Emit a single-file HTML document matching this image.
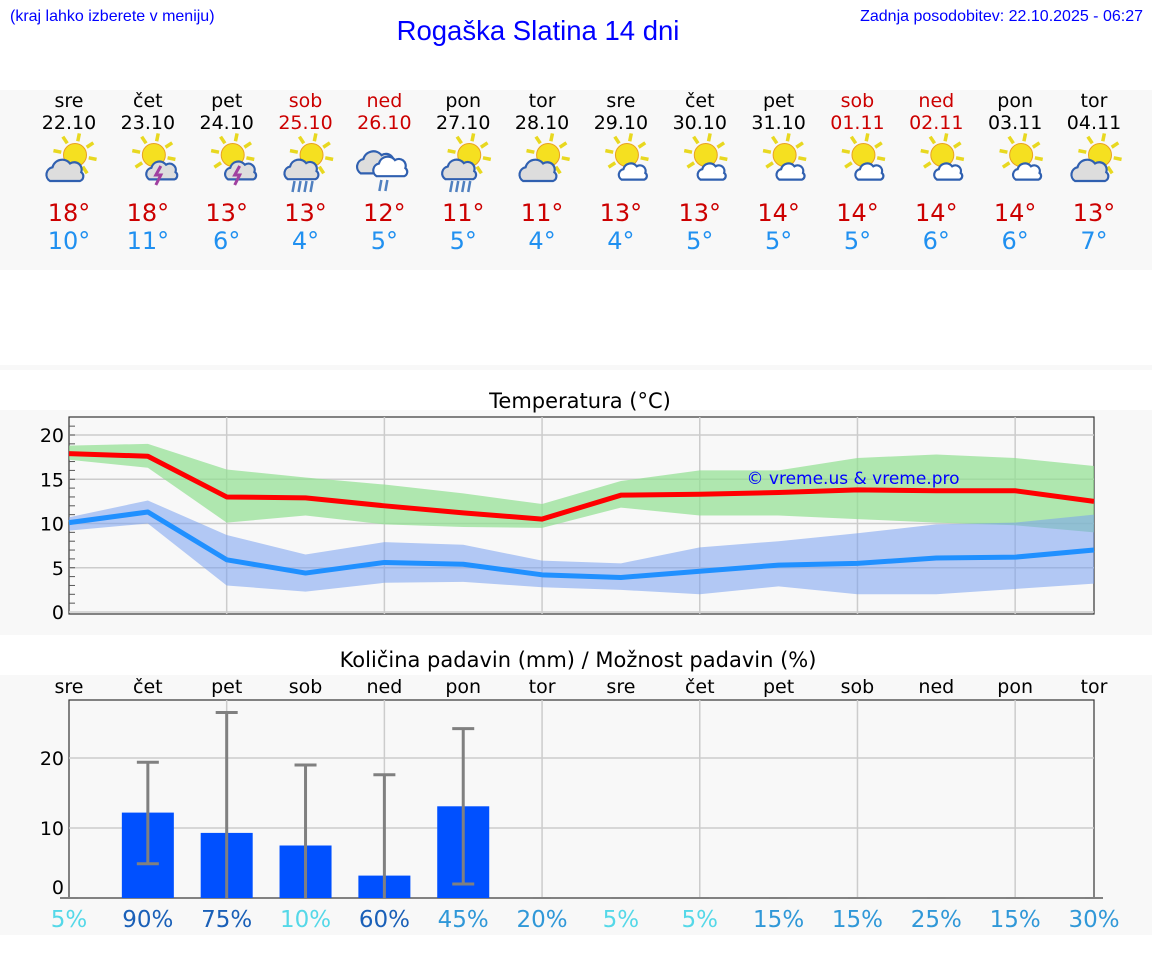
<!DOCTYPE html>
<html><head><meta charset="utf-8"><style>
body{margin:0;background:#fff;width:1152px;height:975px;overflow:hidden;font-family:"Liberation Sans","DejaVu Sans",sans-serif}
svg text{font-family:"DejaVu Sans","Liberation Sans",sans-serif}
</style></head><body>
<svg id="s" width="1152" height="975" xmlns="http://www.w3.org/2000/svg">
<rect x="0" y="90" width="1152" height="180" fill="#f8f8f8"/>
<rect x="0" y="365" width="1152" height="5" fill="#f8f8f8"/>
<rect x="0" y="410" width="1152" height="225" fill="#f8f8f8"/>
<rect x="0" y="675" width="1152" height="260" fill="#f8f8f8"/>
<text x="10" y="21" font-size="16" fill="#0000ff" style="font-family:'Liberation Sans',sans-serif">(kraj lahko izberete v meniju)</text>
<text x="538" y="40" font-size="27.5" fill="#0000ff" text-anchor="middle" style="font-family:'Liberation Sans',sans-serif">Rogaška Slatina 14 dni</text>
<text x="1143" y="21" font-size="16" fill="#0000ff" text-anchor="end" style="font-family:'Liberation Sans',sans-serif">Zadnja posodobitev: 22.10.2025 - 06:27</text>
<text x="580" y="408" font-size="21" text-anchor="middle" fill="#000">Temperatura (°C)</text>
<text x="578" y="667" font-size="21" text-anchor="middle" fill="#000">Količina padavin (mm) / Možnost padavin (%)</text>
<g id="days"></g><g id="temp"></g><g id="prec"></g>
</svg>
<script>
const dayNames=["sre","čet","pet","sob","ned","pon","tor","sre","čet","pet","sob","ned","pon","tor"];
const dates=["22.10","23.10","24.10","25.10","26.10","27.10","28.10","29.10","30.10","31.10","01.11","02.11","03.11","04.11"];
const weekend=[0,0,0,1,1,0,0,0,0,0,1,1,0,0];
const icons=["pc","ts","ts","rs","rc","rs","pc","ps","ps","ps","ps","ps","ps","pc"];
const hiLabel=[18,18,13,13,12,11,11,13,13,14,14,14,14,13];
const loLabel=[10,11,6,4,5,5,4,4,5,5,5,6,6,7];
const hiLine=[17.9,17.6,13.0,12.9,12.0,11.2,10.5,13.2,13.3,13.5,13.8,13.7,13.7,12.5];
const loLine=[10.1,11.3,5.9,4.4,5.6,5.4,4.2,3.9,4.6,5.3,5.5,6.1,6.2,7.0];
const hiBandTop=[18.8,19.0,16.1,15.2,14.4,13.4,12.2,14.8,16.0,16.0,17.4,17.8,17.4,16.5];
const hiBandBot=[17.2,16.3,10.1,10.9,9.9,9.6,9.5,11.8,10.9,10.9,10.5,10.1,9.8,9.0];
const loBandTop=[10.7,12.6,8.7,6.5,7.9,7.6,5.8,5.5,7.3,8.0,8.9,9.9,10.1,11.0];
const loBandBot=[9.2,10.0,3.0,2.3,3.3,3.4,2.8,2.5,2.0,2.9,2.0,2.0,2.6,3.2];
const tempTicks=[0,5,10,15,20];
const precip=[0,12.2,9.3,7.5,3.2,13.1,0,0,0,0,0,0,0,0];
const errLow=[0,4.9,0,0,0,2.0,0,0,0,0,0,0,0,0];
const errHigh=[0,19.4,26.5,19.0,17.6,24.2,0,0,0,0,0,0,0,0];
const chance=[5,90,75,10,60,45,20,5,5,15,15,25,15,30];
const precTicks=[0,10,20];

const NS="http://www.w3.org/2000/svg";
function mk(p,tag,a,txt){const e=document.createElementNS(NS,tag);for(const k in a)e.setAttribute(k,a[k]);if(txt!==undefined)e.textContent=txt;p.appendChild(e);return e;}
const X=i=>69+i*(1094-69)/13;
const TY=v=>612-v*8.85;
const PY=v=>898-v*7;

const dg=document.getElementById('days');
function sun(g,cx,cy){for(let k=0;k<8;k++){const a=k*Math.PI/4+0.2;mk(g,'line',{x1:cx+Math.cos(a)*14,y1:cy+Math.sin(a)*14,x2:cx+Math.cos(a)*22,y2:cy+Math.sin(a)*22,stroke:'#e8d820','stroke-width':3.5});}mk(g,'circle',{cx:cx,cy:cy,r:11.5,fill:'#f5e020',stroke:'#e8a020','stroke-width':1});}
function cloud(g,cx,cy,s,fill){mk(g,'path',{d:`M${cx-12*s},${cy+8*s} a${6*s},${6*s} 0 0 1 ${2*s},${-11*s} a${8*s},${8*s} 0 0 1 ${14*s},${-3*s} a${6*s},${6*s} 0 0 1 ${9*s},${7*s} a${4*s},${4*s} 0 0 1 ${-1*s},${7*s} z`,fill:fill,stroke:'#3060b0','stroke-width':2.2});}
dayNames.forEach((d,i)=>{
 const c=weekend[i]?'#cc0000':'#000';
 const g=mk(dg,'g',{});
 
 
 mk(g,'text',{x:X(i),y:107,'font-size':19,'text-anchor':'middle',fill:c},d);
 mk(g,'text',{x:X(i),y:129,'font-size':19,'text-anchor':'middle',fill:c},dates[i]);
 const ic=mk(g,'g',{});
 
 
 const cx=X(i);
 const t=icons[i];
 if(t==='rc'){cloud(ic,cx-8,163,1.3,'#ddd');cloud(ic,cx+6,167,1.15,'#fff');mk(ic,'path',{d:`M${cx-3},180 l-2,11 M${cx+3},180 l-2,11`,stroke:'#5080c0','stroke-width':2.5});}
 else{sun(ic,cx+6,155);
  if(t==='pc')cloud(ic,cx-4,171,1.25,'#ddd');
  if(t==='ps')cloud(ic,cx+12,172,0.95,'#fff');
  if(t==='ts'){cloud(ic,cx+14,171,1.05,'#ddd');mk(ic,'path',{d:`M${cx+13},166 l-5,9 h5 l-5,10`,stroke:'#a040a0','stroke-width':3,fill:'none'});}
  if(t==='rs'){cloud(ic,cx-4,170,1.15,'#ddd');mk(ic,'path',{d:`M${cx-11},181 l-2,11 M${cx-5},181 l-2,11 M${cx+1},181 l-2,11 M${cx+7},181 l-2,11`,stroke:'#5080c0','stroke-width':2.5});}
 }
 mk(g,'text',{x:X(i),y:221,'font-size':24,'text-anchor':'middle',fill:'#cc0000'},hiLabel[i]+'°');
 mk(g,'text',{x:X(i),y:249,'font-size':24,'text-anchor':'middle',fill:'#2090f0'},loLabel[i]+'°');
});

const tg=document.getElementById('temp');
const tbg=mk(tg,'rect',{x:69,y:417,width:1025,height:197,fill:'#f8f8f8',stroke:'#333','stroke-width':1.2});


tempTicks.forEach(v=>{mk(tg,'line',{x1:69,x2:1094,y1:TY(v),y2:TY(v),stroke:'#ccc','stroke-width':1.5});
 const l=mk(tg,'text',{x:64,y:TY(v)+7,'font-size':19,'text-anchor':'end',fill:'#000'},v);
 
});
for(let v=1;v<=21;v++)mk(tg,'line',{x1:69,x2:75,y1:TY(v),y2:TY(v),stroke:'#555','stroke-width':1});
for(let i=2;i<14;i+=2)mk(tg,'line',{x1:X(i),x2:X(i),y1:417,y2:614,stroke:'#ccc','stroke-width':1.5});
function band(top,bot,col,name){const pts=top.map((v,i)=>X(i)+','+TY(v)).concat(bot.map((v,i)=>X(i)+','+TY(v)).reverse());const p=mk(tg,'polygon',{points:pts.join(' '),fill:col});}
band(hiBandTop,hiBandBot,'rgba(144,224,144,0.7)','high-temp-range');
band(loBandTop,loBandBot,'rgba(120,160,240,0.55)','low-temp-range');
function line(vals,col,name){const p=mk(tg,'polyline',{points:vals.map((v,i)=>X(i)+','+TY(v)).join(' '),fill:'none',stroke:col,'stroke-width':5,'stroke-linejoin':'round'});}
line(hiLine,'#ff0000','high-temp-line');
line(loLine,'#2090ff','low-temp-line');
const wm=mk(tg,'text',{x:853,y:484,'font-size':17,'text-anchor':'middle',fill:'#0000ff'},'© vreme.us & vreme.pro');


const pg=document.getElementById('prec');
const pbg=mk(pg,'rect',{x:69,y:700,width:1025,height:198,fill:'#f8f8f8',stroke:'#333','stroke-width':1.2});


precTicks.forEach(v=>{if(v>0)mk(pg,'line',{x1:69,x2:1094,y1:PY(v),y2:PY(v),stroke:'#ccc','stroke-width':1.5});
 const l=mk(pg,'text',{x:64,y:PY(v)+(v?7:-4),'font-size':19,'text-anchor':'end',fill:'#000'},v);
 
});
for(let i=2;i<14;i+=2)mk(pg,'line',{x1:X(i),x2:X(i),y1:700,y2:898,stroke:'#ccc','stroke-width':1.5});
const chanceCol=p=>p<=10?'#55d8e8':p<=45?'#3098d8':'#1a60b8';
dayNames.forEach((d,i)=>{
 const l=mk(pg,'text',{x:X(i),y:693,'font-size':19,'text-anchor':'middle',fill:'#000'},d);
 
 if(precip[i]>0){const b=mk(pg,'rect',{x:X(i)-26,y:PY(precip[i]),width:52,height:PY(0)-PY(precip[i]),fill:'#0050ff'});
  
  }
 if(errHigh[i]>0){const e=mk(pg,'path',{d:`M${X(i)},${PY(errLow[i])} V${PY(errHigh[i])} M${X(i)-11},${PY(errHigh[i])} h22`+(errLow[i]>0?` M${X(i)-11},${PY(errLow[i])} h22`:''),stroke:'#808080','stroke-width':3,fill:'none'});
  }
 else mk(pg,'line',{x1:X(i)-9,x2:X(i)+9,y1:898,y2:898,stroke:'#808080','stroke-width':2});
 const c=mk(pg,'text',{x:X(i),y:927,'font-size':23,'text-anchor':'middle',fill:chanceCol(chance[i])},chance[i]+'%');
 
});
</script>
</body></html>
